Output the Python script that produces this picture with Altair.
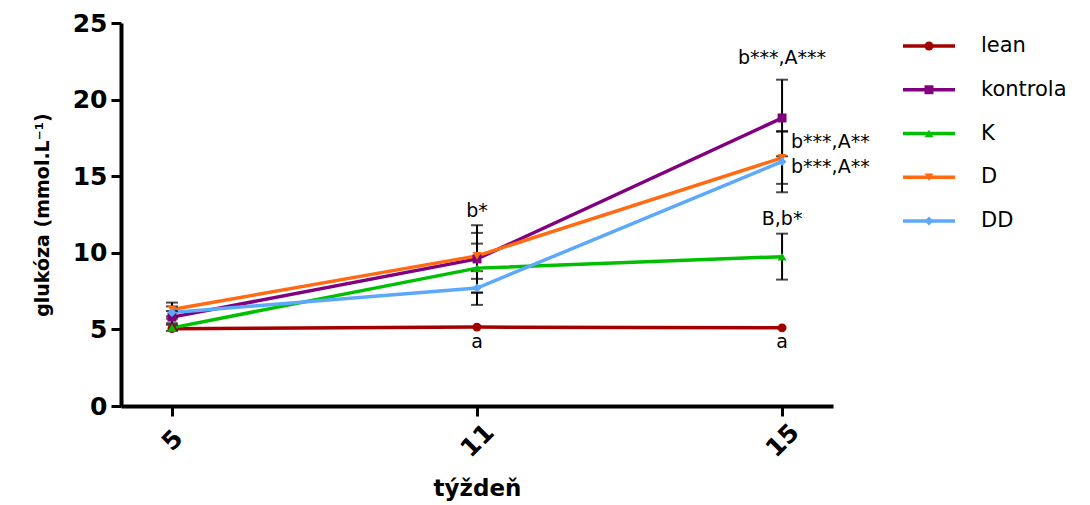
import altair as alt
import pandas as pd

weeks = ["5", "11", "15"]
series = ["lean", "kontrola", "K", "D", "DD"]
colors = ["#A30000", "#800080", "#00BF00", "#FF6A13", "#5CA8FA"]
shapes = ["circle", "square", "triangle-up", "triangle-down", "diamond"]

lean = [5.05, 5.15, 5.1]
kontrola = [5.8, 9.6, 18.8]
K = [5.1, 9.0, 9.75]
D = [6.3, 9.8, 16.2]
DD = [6.1, 7.7, 15.95]

lean_sd = [0.0, 0.0, 0.0]
kontrola_sd = [0.4, 2.2, 2.5]
K_sd = [0.2, 1.6, 1.5]
D_sd = [0.45, 1.5, 1.7]
DD_sd = [0.4, 1.1, 2.0]

ann_week = ["11", "15", "11", "15", "15", "15", "15"]
ann_y = [4.2, 4.2, 12.75, 22.7, 17.2, 15.6, 12.2]
ann_text = ["a", "a", "b*", "b***,A***", "b***,A**", "b***,A**", "B,b*"]
ann_align = ["center", "center", "center", "center", "left", "left", "center"]

vals = [lean, kontrola, K, D, DD]
sds = [lean_sd, kontrola_sd, K_sd, D_sd, DD_sd]
rows = []
for s, v, e in zip(series, vals, sds):
    for w, vv, ee in zip(weeks, v, e):
        rows.append({"week": w, "series": s, "value": vv, "sd": ee,
                     "lo": vv - ee, "hi": vv + ee})
df = pd.DataFrame(rows)
ann = pd.DataFrame({"week": ann_week, "y": ann_y, "text": ann_text, "align": ann_align})

xenc = alt.X("week:O", sort=weeks,
             scale=alt.Scale(type="point", padding=0.167),
             axis=alt.Axis(title="týždeň", labelAngle=315, labelAlign="center",
                           labelBaseline="middle", labelPadding=24, titlePadding=16,
                           titleFontSize=23))
yscale = alt.Scale(domain=[0, 25], nice=False)
color = alt.Color("series:N", sort=series, scale=alt.Scale(domain=series, range=colors), legend=None)
shape = alt.Shape("series:N", sort=series, scale=alt.Scale(domain=series, range=shapes), legend=None)

base = alt.Chart(df)
lines = base.mark_line(strokeWidth=3.5).encode(
    x=xenc,
    y=alt.Y("value:Q", scale=yscale,
            axis=alt.Axis(title="glukóza (mmol.L⁻¹)", values=[0, 5, 10, 15, 20, 25],
                          titlePadding=20, labelPadding=4, titleFontSize=19)),
    color=color, detail="series:N")
errb = base.transform_filter("datum.sd > 0")
rules = errb.mark_rule(color="black", strokeWidth=2).encode(
    x=alt.X("week:O", sort=weeks), y=alt.Y("lo:Q", scale=yscale), y2="hi:Q")
cap_hi = errb.mark_tick(color="black", thickness=2, size=12).encode(
    x=alt.X("week:O", sort=weeks), y=alt.Y("hi:Q", scale=yscale))
cap_lo = errb.mark_tick(color="black", thickness=2, size=12).encode(
    x=alt.X("week:O", sort=weeks), y=alt.Y("lo:Q", scale=yscale))
points = base.mark_point(filled=True, size=80, opacity=1).encode(
    x=alt.X("week:O", sort=weeks), y=alt.Y("value:Q", scale=yscale),
    color=color, shape=shape)

ann_c = alt.Chart(ann).transform_filter("datum.align == 'center'").mark_text(
    font="DejaVu Sans", fontSize=19, color="black", baseline="middle", align="center").encode(
    x=alt.X("week:O", sort=weeks), y=alt.Y("y:Q", scale=yscale), text="text:N")
ann_l = alt.Chart(ann).transform_filter("datum.align == 'left'").mark_text(
    font="DejaVu Sans", fontSize=19, color="black", baseline="middle", align="left", dx=9).encode(
    x=alt.X("week:O", sort=weeks), y=alt.Y("y:Q", scale=yscale), text="text:N")

main = alt.layer(lines, rules, cap_hi, cap_lo, points, ann_c, ann_l).properties(width=712, height=383)

leg_df = pd.DataFrame({"series": series})
ly = alt.Y("series:N", sort=series, scale=alt.Scale(type="point", range=[23, 198], padding=0), axis=None)
lbase = alt.Chart(leg_df)
lrule = lbase.mark_rule(strokeWidth=3.5).encode(y=ly, x=alt.value(10), x2=alt.value(62), color=color)
lpt = lbase.mark_point(filled=True, size=80, opacity=1).encode(
    y=ly, x=alt.value(36), color=color, shape=shape)
ltxt = lbase.mark_text(font="DejaVu Sans", fontSize=21, align="left", baseline="middle", color="black").encode(
    y=ly, x=alt.value(88), text="series:N")
legend = alt.layer(lrule, lpt, ltxt).properties(width=190, height=383)

chart = alt.hconcat(main, legend, spacing=60, bounds="flush").properties(
    padding={"left": 33, "top": 11, "right": 2, "bottom": 2}
).configure_view(stroke=None).configure_axis(
    grid=False, domainColor="black", domainWidth=4, tickColor="black", tickWidth=3, tickSize=10,
    labelFont="DejaVu Sans", labelFontWeight="bold", labelFontSize=25, labelColor="black",
    titleFont="DejaVu Sans", titleFontWeight="bold", titleColor="black"
)

chart.save("out.html", embed_options={"renderer": "svg", "actions": False})
